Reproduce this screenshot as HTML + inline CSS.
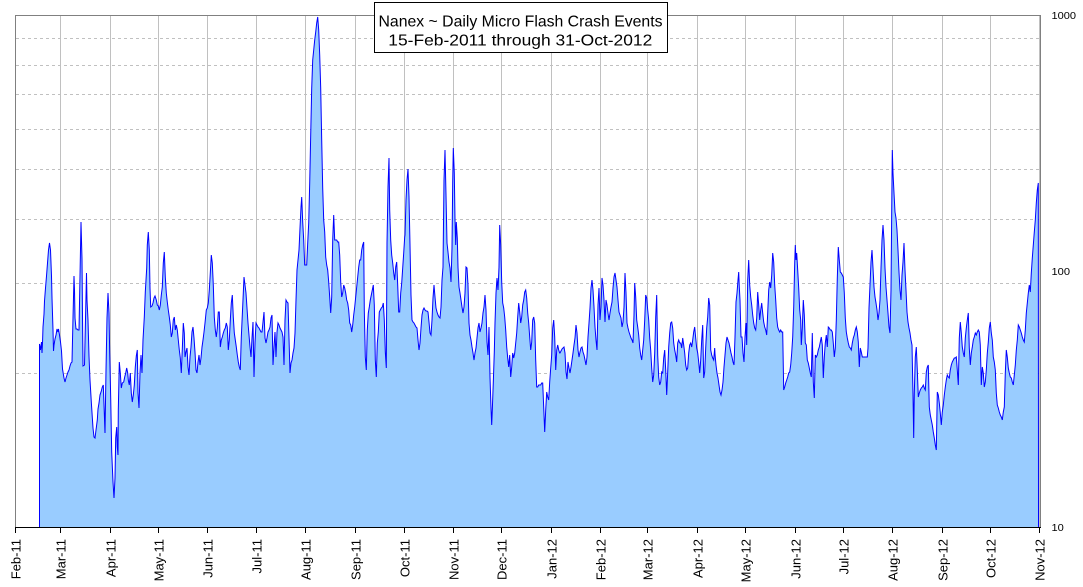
<!DOCTYPE html>
<html>
<head>
<meta charset="utf-8">
<style>
html,body{margin:0;padding:0;background:#fff;}
svg{display:block;}
text{font-family:"Liberation Sans","DejaVu Sans",sans-serif;}
</style>
</head>
<body>
<svg width="1083" height="587" viewBox="0 0 1083 587" xmlns="http://www.w3.org/2000/svg">
<rect x="0" y="0" width="1083" height="587" fill="#fff"/>
<!-- vertical grid -->
<g stroke="#c0c0c0" stroke-width="1" shape-rendering="crispEdges">
<line x1="60.5" y1="15" x2="60.5" y2="527"/>
<line x1="110.5" y1="15" x2="110.5" y2="527"/>
<line x1="158.5" y1="15" x2="158.5" y2="527"/>
<line x1="207.5" y1="15" x2="207.5" y2="527"/>
<line x1="256.5" y1="15" x2="256.5" y2="527"/>
<line x1="305.5" y1="15" x2="305.5" y2="527"/>
<line x1="355.5" y1="15" x2="355.5" y2="527"/>
<line x1="404.5" y1="15" x2="404.5" y2="527"/>
<line x1="453.5" y1="15" x2="453.5" y2="527"/>
<line x1="501.5" y1="15" x2="501.5" y2="527"/>
<line x1="551.5" y1="15" x2="551.5" y2="527"/>
<line x1="600.5" y1="15" x2="600.5" y2="527"/>
<line x1="647.5" y1="15" x2="647.5" y2="527"/>
<line x1="697.5" y1="15" x2="697.5" y2="527"/>
<line x1="745.5" y1="15" x2="745.5" y2="527"/>
<line x1="795.5" y1="15" x2="795.5" y2="527"/>
<line x1="843.5" y1="15" x2="843.5" y2="527"/>
<line x1="892.5" y1="15" x2="892.5" y2="527"/>
<line x1="942.5" y1="15" x2="942.5" y2="527"/>
<line x1="990.5" y1="15" x2="990.5" y2="527"/>
<line x1="1039.5" y1="15" x2="1039.5" y2="527"/>
</g>
<!-- horizontal dashed grid -->
<g stroke="#c0c0c0" stroke-width="1" stroke-dasharray="3,3" shape-rendering="crispEdges">
<line x1="16" y1="38.5" x2="1040" y2="38.5"/>
<line x1="16" y1="65.5" x2="1040" y2="65.5"/>
<line x1="16" y1="94.5" x2="1040" y2="94.5"/>
<line x1="16" y1="129.5" x2="1040" y2="129.5"/>
<line x1="16" y1="169.5" x2="1040" y2="169.5"/>
<line x1="16" y1="219.5" x2="1040" y2="219.5"/>
<line x1="16" y1="283.5" x2="1040" y2="283.5"/>
<line x1="16" y1="373.5" x2="1040" y2="373.5"/>
</g>
<!-- data -->
<polyline id="d" fill="#99ccff" stroke="#0000ff" stroke-width="1" stroke-linejoin="miter" points="
39.5,527 39.5,344 40.5,350 41.5,342 42,353 42.5,343 43,327 44,314 44.5,301 45.5,288 46.5,276 47.5,263 48.5,250 49.5,243 50.5,250 51.5,276 52,298 53,330 53.5,351 54,345 55,339 56,335 57,329 58,332 58.5,329 59.5,335 60.5,342 61.5,351 62.5,369 64,378 65,382 66,378 67,375 68,372 69,370 70,366 71,363 72,362 73,318 74,276 74.5,290 75,318 76,329 77,329 78,330 79,330 80,276 81,222 82,259 82.5,316 83,366 84.5,365 85.5,319 86.5,273 87,300 88,320 89,356 90,380 91.5,405 93,428 94,437
95,438 96,430 97.3,420 98,409 99,403 100,395 101.3,391 102.3,387 103.3,385 104.3,413 105,433 106,370 107,318 108,293 109,313 109.7,353 110.7,398 111.7,452 113,482 114,498 115,478 115.7,438 116.7,427 117.3,447 118,455 118.3,410 119.3,362 120.3,373 121.3,388 122.3,383 123.7,382 124.7,377 125.7,373 126.7,368 127.7,373 128.3,380 129.3,385 130.3,373 131.3,393 132.3,402 133.3,395 134.3,385 135.3,367 136.3,356 137.3,350 138,393 139,408 140,373 141,355 142,373 143,340 144.3,317 145.3,292 146.7,268 147.3,245 148.3,232 149.3,250 150,288 150.7,307 152,306 153,303 154,298 155,296 156.3,300 157.3,305 158.3,306 159.3,310 160.3,305 161.3,295 162.3,287 163.3,263 164.3,252 165.3,277 166.3,293 167.3,302 168.3,310 169.3,317 170.3,325 171.3,337 172.3,333 173.3,320 174.3,317 175.3,330 176.3,325 177.3,330 178.3,340 179.3,350 180.3,358 181.3,373 182.3,349 183.3,323 184.3,333 185,357 186,352 187,348 188,367 189,375 190,357 191,347 192,332 193,327 194,338 195,352 196,370 197,373 198,362 199,355 200,365 201,358 202,347 203,340 204,332 205,323 206.3,310 207.3,308 208.3,303 209.3,290 210.3,273 211.3,255 212.3,263 213.3,285 214.3,317 215.3,330 216.3,337 217.3,328 218.3,312 219.3,312 220.3,347 221.3,340 222.3,337 223.3,333 224.3,330 225.3,328 226.3,323 227.3,327 228.3,350 229.3,340 230.3,320 231.3,303 232.3,295 233.3,317 234.3,333 235.3,340 236.3,347 237.3,355 238.3,362 239.3,367 240.3,370 241.3,337 242.3,315 243.3,293 244,277 245,285 246,293 247,308 248,323 249,335
250,347 251,357 252,338 253,322 254,377 255,343 256,323 257,325 258,327 259,328 260,330 261,332 262,332 263,322 264,312 265,338 266,343 267,338 268,332 269,330 270,327 271,318 272,315 273,365 274,347 275,332 276,357 277,332 278,323 279,325 280,328 281,330 282,332 283,337 284,365 285,320 286,300 287,302 288,303 289,338 290,373 291,363 292,360 293,353 294,348 295,333 296,300 297,270 298,260 299,250 300,228 301,207 301.7,197 302.7,222 303.7,240 304.7,265 306.7,265 307.7,243 308.7,223 309.7,183 310.7,135 311.7,88 312.7,60 313.7,50 314.7,40 315.7,32 316.7,23 317.7,17 318.7,30 319.7,55 320.7,88 321.7,140 322.7,188 323.7,220 324.7,232 325.7,257 326.7,265 327.7,270 328.7,282 329.7,297 330.7,313 331.7,297 332.7,240 333.7,215 334.7,240 335.7,240 336.7,240 337.7,242 338.7,242 339.7,255 340.7,282 341.7,297 342.7,293 343.7,285 344.7,288 345.7,293 346.7,300 347.7,303 348.7,310 349.7,323 350.7,325 351.7,332 352.7,325 353.7,315 354.7,307 355.7,297 356.7,287 357.7,277 358.7,267 359.7,260 360.7,260 361.7,250 362.7,245 363.7,242 364.3,310 365.3,357 366.3,370 367.3,330 368.3,313 369.3,307 370.3,300 371.3,295 372.3,290 373.3,285 374.3,305 375.3,360 376.3,377 377.3,343 378.3,332 379.3,312 380.3,310 381.3,308 382.3,307 383.3,303 384.3,320 385.3,352 386.3,368 387,243 388,187 389,158 389.7,210 390.7,240 391.7,255 392.7,263 393.7,273 394.7,280 395.7,267 396.7,262 397.7,285 398.7,312 399.7,312 400.7,293 401.7,283 402.7,268 403.7,253 404.7,237
405,235 406,200 407,180 408,169 409,197 410,245 411,295 412,320 413,322 414,323 415,325 416,327 417,328 418,340 419,350 420,343 421,328 422,315 423,310 424,308 425,310 426,311 427,311 428,312 429,322 430,333 431,335 432,320 433,298 434,285 435,297 436,308 437,312 438,315 439,317 440,318 441,307 442,280 443,267 444,180 445,150 446,195 447,243 448,252 449,262 450,268 451,282 452,248 452.7,182 453.3,148 454.3,173 455,220 455.7,245 456.3,222 457.3,238 458,267 459,287 460,293 461,300 462,307 463,313 464,307 465,293 466,267 467,268 468,285 469,323 470,335 471,340 472,347 473,353 474,360 475,353 476,348 477,338 478,328 479,323 480,332 481,328 482,323 483,313 484,307 485,295 486,310 487,342 488,355 489,327 490,377 491,408 491.7,425 492.3,410 493.3,382 494.3,352 495,323 496,293 497,278 498,290 499,267 499.7,225 500.7,245 501.7,282 502.7,303 503.7,308 504.7,317 505.7,330 506.7,347 507.7,358 508.7,367 509.7,355 510.7,377 511.7,367 512.7,353 513.7,358 514.7,353 515.7,343 516.7,333 517.7,317 518.7,303 519.7,312 520.7,323 521.7,317 522.7,305 523.7,300 524.7,292 525.7,290 526.7,298 527.7,313 528.7,323 529.7,337 530.7,350 531.7,342 532.7,320 533.7,317 534.7,323 535.7,360 536.7,387 537.7,387 538.7,385 539.7,385 540.7,385 541.7,383 542.7,383 543.7,407 544.7,432 545.7,410 546.7,392 547.7,397 548.7,400 549.7,382 550.7,368 551.7,355 552.7,328 553.7,320 554.7,337 555.7,370 556.7,350 557.7,345 558.7,350 559.7,353
560,353 561,351 562,349 563,348 564,347 565,353 566,372 567,379 568,362 569,368 570,373 571,367 572,360 573,353 574,345 575,338 576,325 577,333 578,350 579,357 580,352 581,348 582,347 583,352 584,355 585,360 586,365 587,357 588,337 589,323 590,308 591,288 592,280 593,290 594,307 595,327 596,340 597,350 598,305 599,288 600,320 601,307 602,278 603,285 604,300 605,322 606,300 607,305 608,313 609,320 610,313 611,307 612,302 613,288 614,277 615,273 616,280 617,287 618,300 619,312 620,315 621,318 622,327 623,322 624,307 625,273 626,293 627,323 628,328 629,332 630,335 631,338 632,340 633,343 634,315 634.7,283 635.7,297 636.7,320 637.7,327 638.7,335 639.7,348 640.7,355 641.7,360 642.7,350 643.7,340 644.7,320 645.7,295 646.7,298 647.7,310 648.7,320 649.7,338 650.7,350 651.7,368 652.7,382 653.7,375 654.7,353 655.7,317 656.7,295 657.7,355 658.7,377 659.7,385 660.7,382 661.7,372 662.7,373 663.7,358 664.7,350 665.7,370 666.7,395 667.7,372 668.7,347 669.7,333 670.7,323 671.7,322 672.7,328 673.7,343 674.7,350 675.7,355 676.7,362 677.7,343 678.7,340 679.7,343 680.7,343 681.7,348 682.7,338 683.7,345 684.7,353 685.7,365 686.7,370 687.7,368 688.7,353 689.7,345 690.7,343 691.7,347 692.7,340 693.7,332 694.7,327 695.7,338 696.7,348 697.7,353 698.7,362 699.7,373 700.7,360 701.7,340 702.7,325 703.7,378 704.7,372 705.7,348 706.7,328 707.7,317 708.7,298 709.7,305 710.7,350 711.7,355 712.7,358 713.7,360 714.7,348
715,354 716,365 717,373 718,378 719,385 720,392 721,395 722,390 723,382 724,367 725,355 726,343 727,337 728,340 729,343 730,348 731,353 732,357 733,362 734,365 735,337 736,302 737,293 738,280 738.7,272 739.3,287 740,300 741,337 742,337 743,353 744,362 745,337 746,323 746.7,345 747.7,280 748.7,260 749.7,285 750.7,297 751.7,305 752.7,315 753.7,323 754.7,328 755.7,330 756.7,318 757.7,292 758.7,305 759.7,320 760.7,310 761.7,303 762.7,313 763.7,322 764.7,327 765.7,330 766.7,335 767.7,313 768.7,290 769.7,282 770.7,288 771.7,275 772.7,253 773.7,262 774.7,285 775.7,300 776.7,318 777.7,327 778.7,330 779.7,332 780.7,330 781.7,332 782.7,332 783.7,390 784.7,387 785.7,383 786.7,380 787.7,377 788.7,373 789.7,372 790.7,365 791.7,353 792.7,337 793.7,307 794.7,263 795.3,245 796,260 796.7,253 797.7,270 798.7,288 799.7,310 800.7,320 801.3,345 802.3,328 803.3,300 804.3,315 805.3,343 806.3,345 807.3,360 808.3,363 809.3,368 810.3,373 811.3,377 812.3,333 813.3,382 814.3,398 815.3,355 816.3,357 817.3,355 818.3,350 819.3,347 820.3,342 821.3,337 822.3,345 823.3,378 824.3,357 825.3,343 826.3,335 827.3,347 828.3,327 829.3,328 830.3,330 831.3,330 832.3,332 833.3,343 834.3,357 835.3,348 836.3,320 837.3,278 838.3,247 839.3,260 840.3,272 841.3,273 842.3,275 843.3,277 844.3,293 845.3,318 846.3,332 847.3,338 848.3,343 849.3,347 850.3,348 851.3,350 852.3,343 853.3,338 854.3,335 855.3,330 856.3,327 857.3,332 858.3,342 859.3,367 860.3,348 861.3,352 862.3,357 863.3,357 864.3,357 865.3,357 866.3,357 867.3,357 868,348
869,308 870,285 871,262 872,250 873,268 874,287 875,297 876,303 877,310 878,320 879,313 880,300 881,268 882,240 883,225 884,240 885,268 886,287 887,300 888,313 889,327 890,333 891,290 891.7,212 892.3,150 893,173 894,193 895,212 896,218 897,230 898,250 899,272 900,290 901,300 902,275 903,262 904,243 905,270 906,290 907,312 908,322 909,328 910,333 911,340 912,345 913,395 913.7,438 914.3,393 915.3,357 916.3,347 917.3,370 918.3,397 919.3,393 920.3,390 921.3,388 922.3,387 923.3,385 924.3,388 925.3,390 926.3,372 927.3,367 928.3,365 929.3,407 930.3,415 931.3,420 932.3,425 933.3,432 934.3,438 935.3,445 936.3,450 937.3,392 938.3,395 939.3,403 940.3,413 941.3,425 942.3,412 943.3,405 944.3,395 945.3,387 946.3,380 947.3,375 948.3,377 949.3,378 950.3,370 951.3,365 952.3,362 953.3,360 954.3,358 955.3,358 956.3,357 957.3,370 958.3,385 959.3,338 960.3,322 961.3,333 962.3,347 963.3,353 964.3,357 965.3,338 966.3,328 967.3,320 968.3,313 969.3,348 970.3,365 971.3,353 972.3,347 973.3,340 974.3,337 975.3,333 976.3,335 977.3,332 978.3,330 979.3,332 980.3,345 981.3,385 982.3,367 983.3,373 984.3,387 985.3,382 986.3,370 987.3,353 988.3,342 989.3,328 990.3,322 991.3,333 992.3,340 993.3,357 994.3,362 995.3,370 996.3,393 997.3,405 998.3,408 999.3,412 1000.3,415 1001.3,417 1002.3,420 1003.3,412 1004.3,407 1005.3,373 1006.3,350 1007.3,357 1008.3,368 1009.3,373 1010.3,377 1011.3,378 1012.3,382 1013.3,385 1014.3,375 1015.3,365 1016.3,350 1017.3,340 1018.3,325 1019.3,327 1020.3,330 1021.3,333 1022.3,337 1023.3,340 1024.3,342 1025.3,330 1026.3,313 1027.3,303 1028.3,293 1029.3,285 1030.3,292 1031.3,273 1032.3,258 1033.3,245 1034.3,232 1035.3,220 1036.3,203 1037.3,190 1038.3,183 1038.5,527"/>
<!-- axes / frame -->
<g shape-rendering="crispEdges">
<line x1="15.5" y1="15" x2="15.5" y2="527" stroke="#808080"/>
<line x1="15" y1="15.5" x2="1041" y2="15.5" stroke="#808080"/>
<line x1="1040.5" y1="15" x2="1040.5" y2="527" stroke="#808080"/>
<line x1="15" y1="527.5" x2="1041" y2="527.5" stroke="#000"/>
<g stroke="#000">
<line x1="15.5" y1="527" x2="15.5" y2="533"/>
<line x1="60.5" y1="527" x2="60.5" y2="533"/>
<line x1="110.5" y1="527" x2="110.5" y2="533"/>
<line x1="158.5" y1="527" x2="158.5" y2="533"/>
<line x1="207.5" y1="527" x2="207.5" y2="533"/>
<line x1="256.5" y1="527" x2="256.5" y2="533"/>
<line x1="305.5" y1="527" x2="305.5" y2="533"/>
<line x1="355.5" y1="527" x2="355.5" y2="533"/>
<line x1="404.5" y1="527" x2="404.5" y2="533"/>
<line x1="453.5" y1="527" x2="453.5" y2="533"/>
<line x1="501.5" y1="527" x2="501.5" y2="533"/>
<line x1="551.5" y1="527" x2="551.5" y2="533"/>
<line x1="600.5" y1="527" x2="600.5" y2="533"/>
<line x1="647.5" y1="527" x2="647.5" y2="533"/>
<line x1="697.5" y1="527" x2="697.5" y2="533"/>
<line x1="745.5" y1="527" x2="745.5" y2="533"/>
<line x1="795.5" y1="527" x2="795.5" y2="533"/>
<line x1="843.5" y1="527" x2="843.5" y2="533"/>
<line x1="892.5" y1="527" x2="892.5" y2="533"/>
<line x1="942.5" y1="527" x2="942.5" y2="533"/>
<line x1="990.5" y1="527" x2="990.5" y2="533"/>
<line x1="1039.5" y1="527" x2="1039.5" y2="533"/>
</g>
</g>
<!-- x labels -->
<g font-size="13" fill="#000" text-anchor="end">
<text transform="translate(20.5,539) rotate(-90)">Feb-11</text>
<text transform="translate(65.5,539) rotate(-90)">Mar-11</text>
<text transform="translate(115.5,539) rotate(-90)">Apr-11</text>
<text transform="translate(163.5,539) rotate(-90)">May-11</text>
<text transform="translate(212.5,539) rotate(-90)">Jun-11</text>
<text transform="translate(261.5,539) rotate(-90)">Jul-11</text>
<text transform="translate(310.5,539) rotate(-90)">Aug-11</text>
<text transform="translate(360.5,539) rotate(-90)">Sep-11</text>
<text transform="translate(409.5,539) rotate(-90)">Oct-11</text>
<text transform="translate(458.5,539) rotate(-90)">Nov-11</text>
<text transform="translate(506.5,539) rotate(-90)">Dec-11</text>
<text transform="translate(556.5,539) rotate(-90)">Jan-12</text>
<text transform="translate(605.5,539) rotate(-90)">Feb-12</text>
<text transform="translate(652.5,539) rotate(-90)">Mar-12</text>
<text transform="translate(702.5,539) rotate(-90)">Apr-12</text>
<text transform="translate(750.5,539) rotate(-90)">May-12</text>
<text transform="translate(800.5,539) rotate(-90)">Jun-12</text>
<text transform="translate(848.5,539) rotate(-90)">Jul-12</text>
<text transform="translate(897.5,539) rotate(-90)">Aug-12</text>
<text transform="translate(947.5,539) rotate(-90)">Sep-12</text>
<text transform="translate(995.5,539) rotate(-90)">Oct-12</text>
<text transform="translate(1044.5,539) rotate(-90)">Nov-12</text>
</g>
<!-- y labels -->
<g font-size="10.5" fill="#000">
<text x="1051.5" y="18.8" textLength="24.5" lengthAdjust="spacingAndGlyphs">1000</text>
<text x="1051.5" y="274.8" textLength="18.5" lengthAdjust="spacingAndGlyphs">100</text>
<text x="1051.5" y="530.8" textLength="12.3" lengthAdjust="spacingAndGlyphs">10</text>
</g>
<!-- title -->
<rect x="374.5" y="2.5" width="293" height="50" fill="#fff" stroke="#000" stroke-width="1" shape-rendering="crispEdges"/>
<g font-size="16" fill="#000" text-anchor="middle">
<text x="520.5" y="26.7" textLength="284" lengthAdjust="spacingAndGlyphs">Nanex ~ Daily Micro Flash Crash Events</text>
<text x="520.3" y="45.7" textLength="264" lengthAdjust="spacingAndGlyphs">15-Feb-2011 through 31-Oct-2012</text>
</g>
</svg>
</body>
</html>
